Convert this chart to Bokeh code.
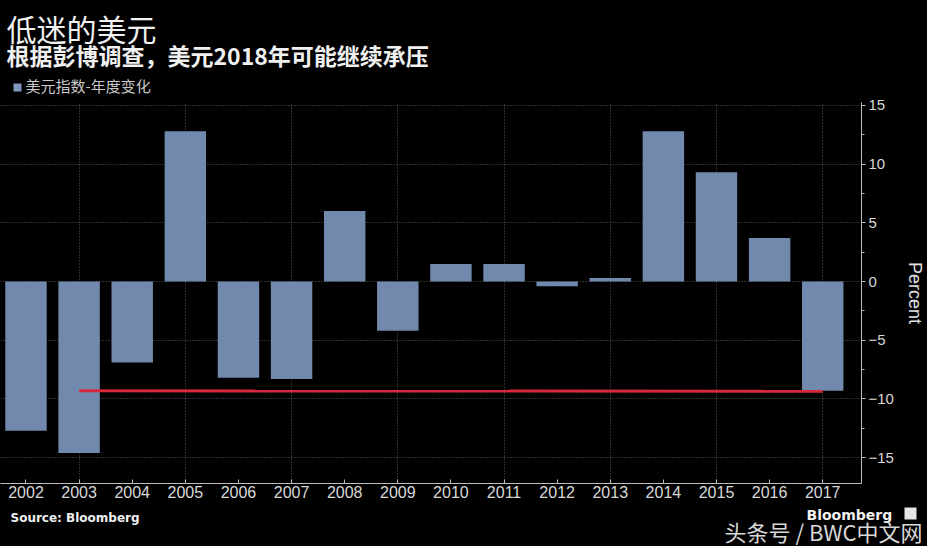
from bokeh.plotting import figure
from bokeh.layouts import column
from bokeh.models import Label, SingleIntervalTicker, FixedTicker, Range1d
from bokeh.embed import file_html
from bokeh.resources import INLINE

# ---- data ----
years = list(range(2002, 2018))
changes = [-12.7, -14.6, -6.9, 12.8, -8.2, -8.3, 6.0, -4.2, 1.5, 1.5, -0.4, 0.3, 12.8, 9.3, 3.7, -9.3]
ref_years = [2003, 2017]
ref_level = [-9.3, -9.35]
grid_years = [2003, 2005, 2007, 2009, 2011, 2013, 2015, 2017]
year_labels = {y: str(y) for y in years}

title_text = "低迷的美元"
subtitle_text = "根据彭博调查，美元2018年可能继续承压"
legend_text = "美元指数-年度变化"
source_text = "Source: Bloomberg"
brand_text = "Bloomberg"
watermark_text = "头条号 / BWC中文网"

BAR = "#7189ad"
W = 922
CJK = "Noto Sans CJK SC"
HEAD_H = 96
FOOT_TOP = 503
TOTAL_H = 546


def blank(height, y0, y1):
    f = figure(frame_width=W, frame_height=height, x_range=Range1d(0, W), y_range=Range1d(y1, y0),
               output_backend="svg", toolbar_location=None,
               x_axis_location=None, y_axis_location=None,
               min_border=0, min_border_left=0, min_border_right=0,
               min_border_top=0, min_border_bottom=0,
               background_fill_color="black", border_fill_color="black",
               outline_line_color=None)
    f.grid.visible = False
    return f


def lab(f, text, x, y, size, color="#f0f0f0", font=CJK, style="normal", align="left"):
    f.add_layout(Label(x=x, y=y, text=text, text_font=font, text_font_size=size,
                       text_color=color, text_font_style=style, text_align=align,
                       text_baseline="middle"))


# ---- header ----
head = blank(HEAD_H, 0, HEAD_H)
lab(head, title_text, 6, 27, "30px")
lab(head, subtitle_text, 6, 54, "23px", style="bold")
head.scatter([17], [87], marker="square", size=8, fill_color="#8096ba", line_color=None)
lab(head, legend_text, 25, 85, "15px", color="#c8c8c8")

# ---- main chart ----
p = figure(frame_width=861, frame_height=381,
           x_range=Range1d(2001.52, 2017.73), y_range=Range1d(-17.2, 15.25),
           output_backend="svg", toolbar_location=None, y_axis_location="right",
           min_border_left=0, min_border_right=61, min_border_top=6, min_border_bottom=20,
           background_fill_color="black", border_fill_color="black", outline_line_color=None)

p.vbar(x=years, top=changes, bottom=0, width=0.78, fill_color=BAR, line_color=None)
p.line(ref_years, ref_level, line_color="#d8283d", line_width=3)

xa = p.xaxis[0]
xa.ticker = FixedTicker(ticks=years)
xa.major_label_overrides = year_labels
xa.major_label_text_font = "Liberation Sans"
xa.major_label_text_font_size = "16px"
xa.major_label_text_color = "#d8d8d8"
xa.axis_line_color = "#bdbdbd"
xa.major_tick_line_color = "#bdbdbd"
xa.major_tick_in = 4
xa.major_tick_out = 0
xa.minor_tick_line_color = None
xa.major_label_standoff = 2

ya = p.yaxis[0]
ya.ticker = SingleIntervalTicker(interval=5, num_minor_ticks=2)
ya.axis_label = "Percent"
ya.axis_label_text_font = "Liberation Sans"
ya.axis_label_text_font_style = "normal"
ya.axis_label_text_font_size = "18px"
ya.axis_label_text_color = "#e0e0e0"
ya.axis_label_standoff = 8
ya.major_label_text_font = "Liberation Sans"
ya.major_label_text_font_size = "15px"
ya.major_label_text_color = "#d8d8d8"
ya.axis_line_color = "#bdbdbd"
ya.major_tick_line_color = "#bdbdbd"
ya.minor_tick_line_color = "#bdbdbd"
ya.major_tick_in = 0
ya.major_tick_out = 4
ya.minor_tick_in = 0
ya.minor_tick_out = 3
ya.major_label_standoff = 3

p.xgrid.ticker = FixedTicker(ticks=grid_years)
p.xgrid.grid_line_color = "#5c5c5c"
p.xgrid.grid_line_dash = "1 2"
p.ygrid.grid_line_color = "#5c5c5c"
p.ygrid.grid_line_dash = "1 2"

# ---- footer ----
foot = blank(TOTAL_H - FOOT_TOP, FOOT_TOP, TOTAL_H)
lab(foot, source_text, 10, 517, "12px", font="DejaVu Sans", style="bold")
lab(foot, brand_text, 806, 514, "14px", font="DejaVu Sans", style="bold")
foot.scatter([910], [513], marker="square", size=12, fill_color="#e6e6e6", line_color=None)
lab(foot, watermark_text, 922, 530, "22px", color="#d8d8d8", align="right")

layout = column(head, p, foot, spacing=0, background="black")
open("out.html", "w").write(file_html(layout, INLINE))
